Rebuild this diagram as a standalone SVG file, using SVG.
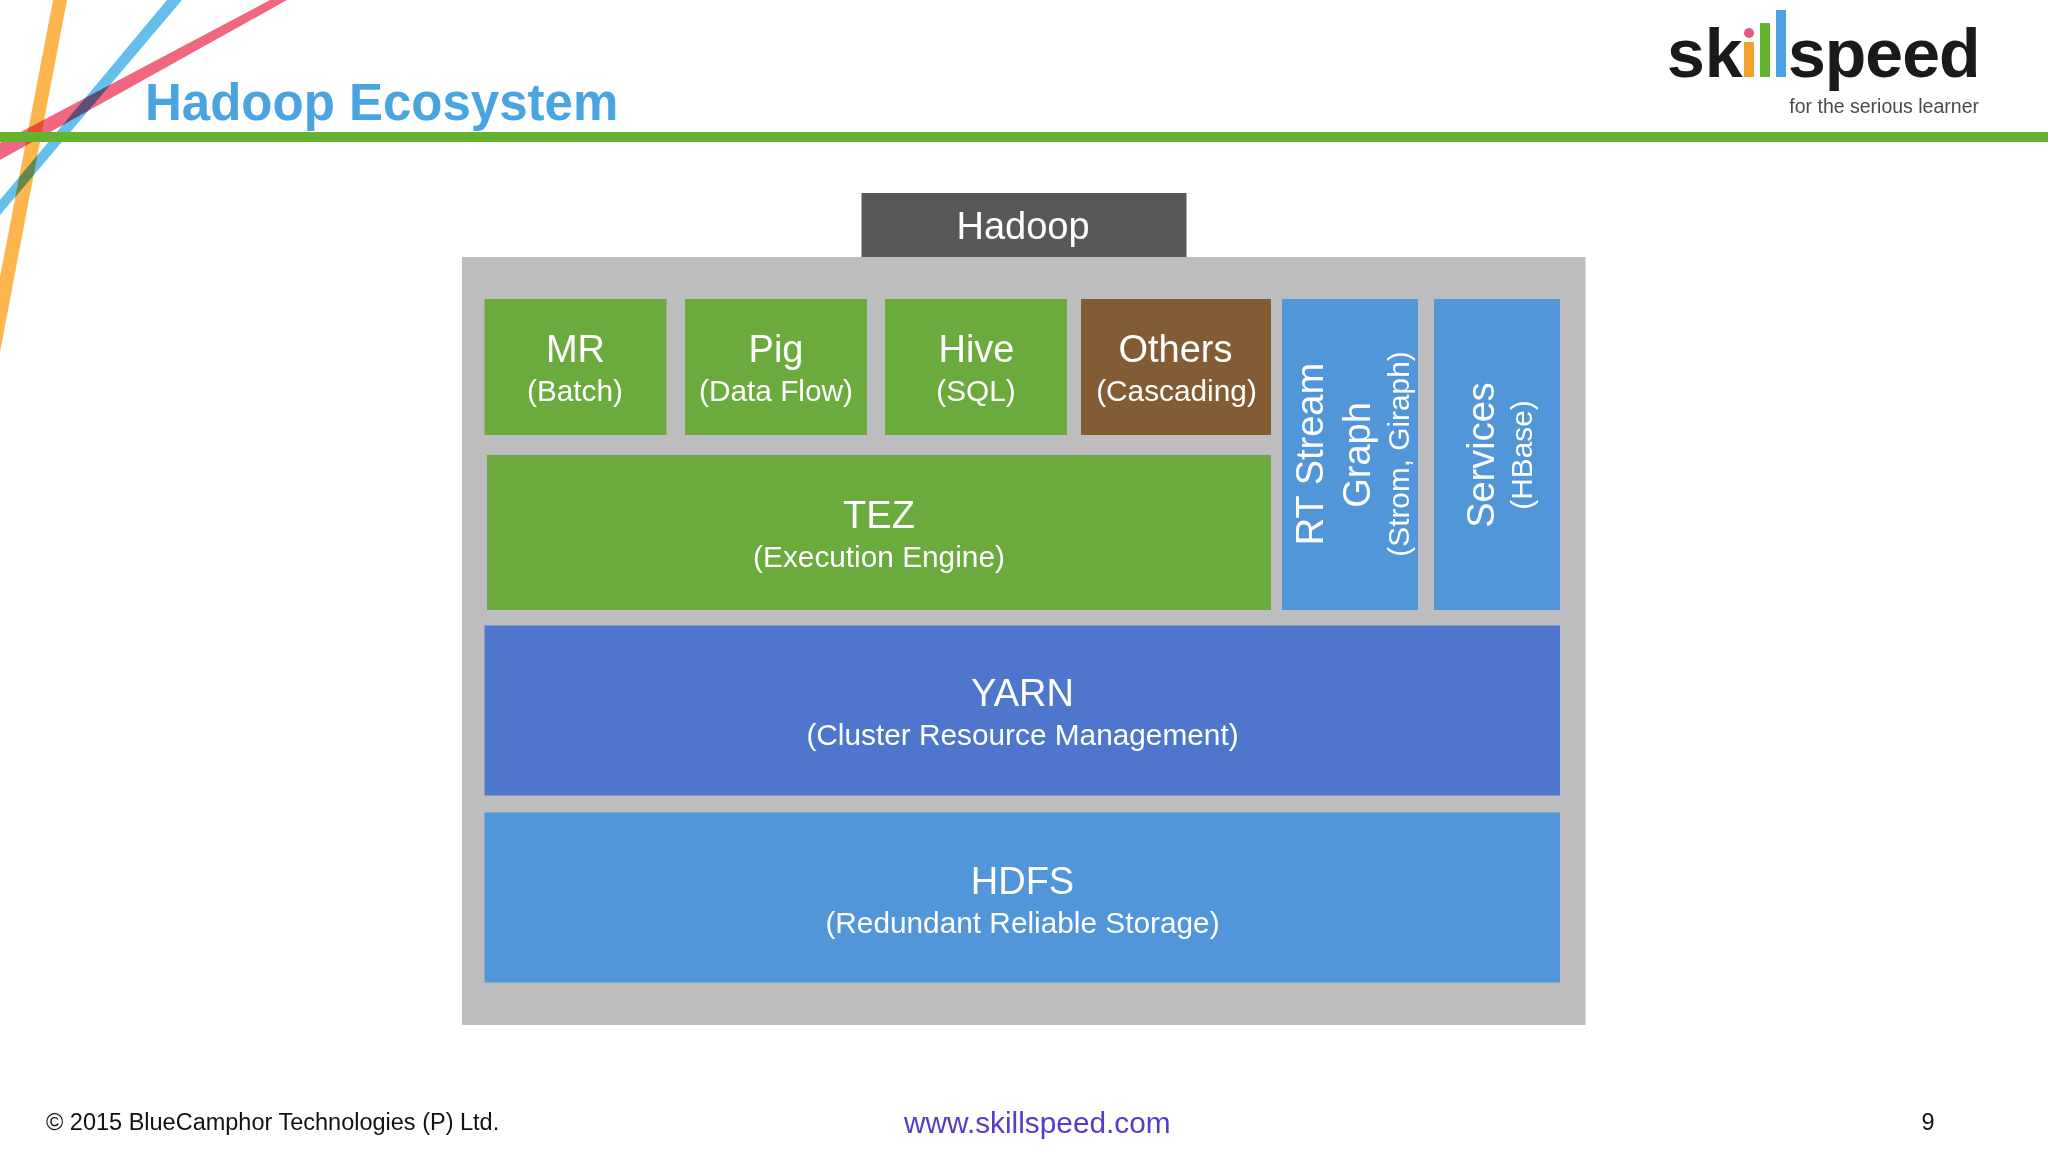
<svg xmlns="http://www.w3.org/2000/svg" width="2048" height="1152" viewBox="0 0 2048 1152">
<style>
text{font-family:"Liberation Sans",Arial,sans-serif}
.h{font-size:38px;fill:#fff;text-anchor:middle}
.s{font-size:29.800px;fill:#fff;text-anchor:middle}
.g{fill:#6bab3e}
.b{fill:#5296da}
.st{mix-blend-mode:multiply}
.k{fill:#1a1a1a;font-size:68px;font-weight:700}
</style>
<rect width="2048" height="1152" fill="#fff"/>
<g id="decor">
<polygon class="st" points="53,0 67,0 0,352 0,277" fill="#fdb64e"/>
<polygon class="st" points="167,0 182,0 0,215 0,200" fill="#65bfea"/>
<polygon class="st" points="270,0 287,0 0,160 0,143" fill="#ef6880"/>
<rect x="0" y="132" width="2048" height="10" fill="#63b32e"/>
</g>
<text id="title" x="145" y="120" font-size="51" font-weight="700" fill="#4aa4e0">Hadoop Ecosystem</text>
<g id="logo">
<text class="k" x="1667" y="77">sk</text>
<rect x="1744" y="42" width="10" height="35" fill="#f0a12e"/>
<circle cx="1749" cy="33" r="5" fill="#e8587a"/>
<rect x="1760" y="23" width="10" height="54" fill="#63b32e"/>
<rect x="1776" y="10" width="10" height="67" fill="#4aa4e0"/>
<text class="k" x="1788" y="77" letter-spacing="-1">speed</text>
<text x="1979" y="113" font-size="19.500" fill="#4a4a4a" text-anchor="end">for the serious learner</text>
</g>
<g id="stack-frame"><rect x="462" y="257" width="1123.500" height="768" fill="#bdbcbe"/></g>
<g id="hadoop"><rect x="861.500" y="193" width="325" height="64" fill="#58575a"/><text class="h" x="1023" y="239">Hadoop</text></g>
<g id="mr"><rect class="g" x="484.500" y="299" width="182" height="136"/><text class="h" x="575.500" y="362">MR</text><text class="s" x="575" y="401">(Batch)</text></g>
<g id="pig"><rect class="g" x="685" y="299" width="182" height="136"/><text class="h" x="776" y="362">Pig</text><text class="s" x="776" y="401">(Data Flow)</text></g>
<g id="hive"><rect class="g" x="885" y="299" width="182" height="136"/><text class="h" x="976.500" y="362">Hive</text><text class="s" x="976" y="401">(SQL)</text></g>
<g id="others"><rect x="1081" y="299" width="190" height="136" fill="#835c36"/><text class="h" x="1175.500" y="362">Others</text><text class="s" x="1176.500" y="401">(Cascading)</text></g>
<g id="tez"><rect class="g" x="487" y="455" width="784" height="155"/><text class="h" x="879" y="528">TEZ</text><text class="s" x="879" y="567">(Execution Engine)</text></g>
<g id="rt-stream"><rect class="b" x="1282" y="299" width="136" height="311"/>
<text class="h" transform="translate(1323,454) rotate(-90)">RT Stream</text>
<text class="h" transform="translate(1370,455) rotate(-90)">Graph</text>
<text class="s" transform="translate(1409,454) rotate(-90)">(Strom, Giraph)</text></g>
<g id="services"><rect class="b" x="1434" y="299" width="126" height="311"/>
<text class="h" transform="translate(1493.500,455) rotate(-90)">Services</text>
<text class="s" transform="translate(1532,455) rotate(-90)">(HBase)</text></g>
<g id="yarn"><rect x="484.500" y="625.500" width="1075.500" height="170" fill="#4e76cc"/><text class="h" x="1022.500" y="706">YARN</text><text class="s" x="1022.500" y="745">(Cluster Resource Management)</text></g>
<g id="hdfs"><rect class="b" x="484.500" y="812.500" width="1075.500" height="170"/><text class="h" x="1022.500" y="894">HDFS</text><text class="s" x="1022.500" y="933">(Redundant Reliable Storage)</text></g>
<g id="footer">
<text x="46" y="1130" font-size="23.500" fill="#111">© 2015 BlueCamphor Technologies (P) Ltd.</text>
<text x="904" y="1133" font-size="29.800" fill="#5040c8">www.skillspeed.com</text>
<text x="1928" y="1130" font-size="23.500" fill="#111" text-anchor="middle">9</text>
</g>
</svg>
